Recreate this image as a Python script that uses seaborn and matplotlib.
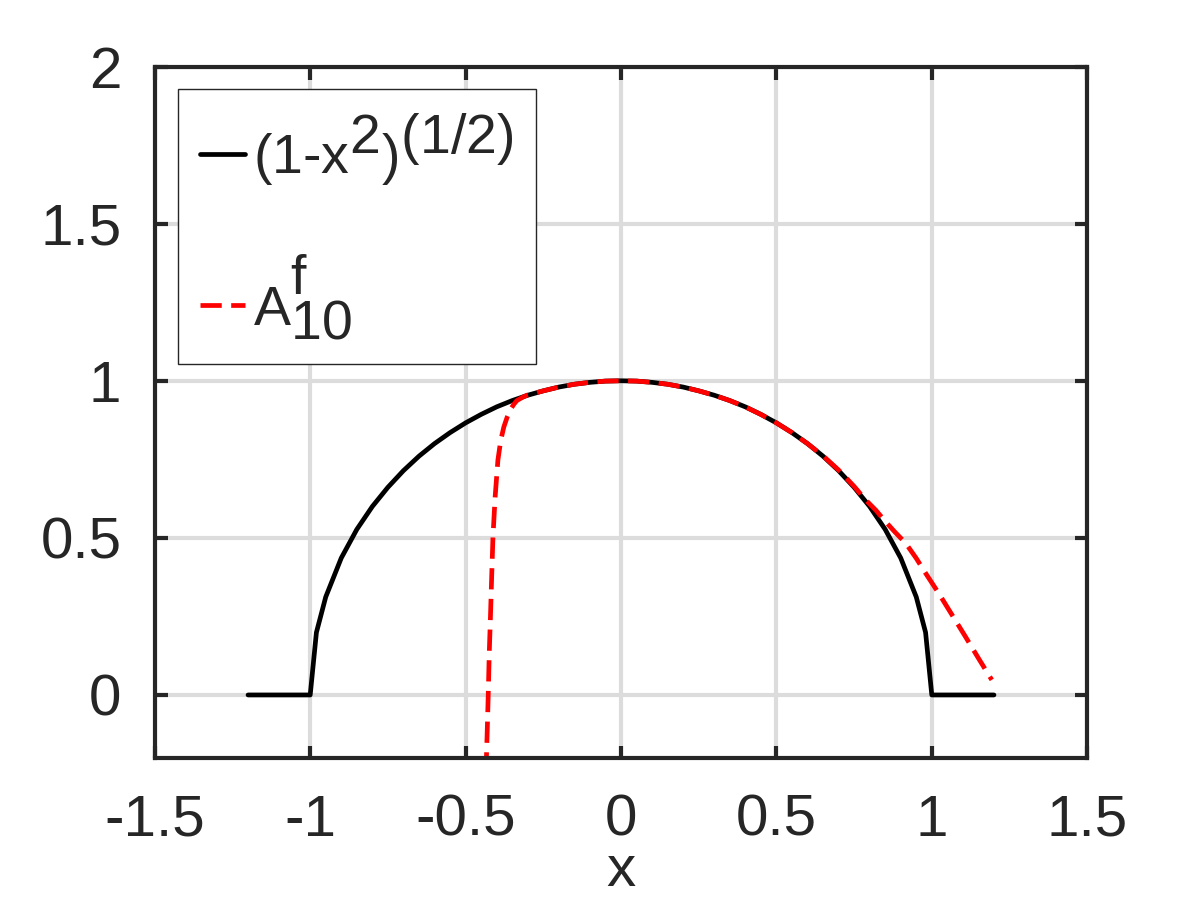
import numpy as np
import pandas as pd
import matplotlib
matplotlib.use("Agg")
import matplotlib.pyplot as plt
import matplotlib._mathtext as _mt
import seaborn as sns

# Black curve: (1-x^2)^(1/2)
x_exact = [-1.2, -1.0, -0.98, -0.95, -0.9, -0.85, -0.8, -0.75, -0.7, -0.65, -0.6,
           -0.55, -0.5, -0.45, -0.4, -0.35, -0.3, -0.25, -0.2, -0.15, -0.1, -0.05,
           0.0, 0.05, 0.1, 0.15, 0.2, 0.25, 0.3, 0.35, 0.4, 0.45, 0.5, 0.55, 0.6,
           0.65, 0.7, 0.75, 0.8, 0.85, 0.9, 0.95, 0.98, 1.0, 1.2]
y_exact = [0.0, 0.0, 0.199, 0.312, 0.436, 0.527, 0.600, 0.661, 0.714, 0.760, 0.800,
           0.835, 0.866, 0.893, 0.917, 0.937, 0.954, 0.968, 0.980, 0.989, 0.995, 0.999,
           1.0, 0.999, 0.995, 0.989, 0.980, 0.968, 0.954, 0.937, 0.917, 0.893, 0.866,
           0.835, 0.800, 0.760, 0.714, 0.661, 0.600, 0.527, 0.436, 0.312, 0.199, 0.0, 0.0]

# Red dashed curve: A^f_10
x_approx = [-0.435, -0.433, -0.430, -0.427, -0.424, -0.420, -0.416, -0.412, -0.405,
            -0.396, -0.387, -0.377, -0.366, -0.356, -0.345, -0.335, -0.314, -0.3,
            -0.25, -0.2, -0.15, -0.1, -0.05, 0.0, 0.05, 0.1, 0.15, 0.2, 0.25, 0.3,
            0.35, 0.4, 0.45, 0.5, 0.55, 0.6, 0.65, 0.7, 0.75, 0.787, 0.82, 0.85,
            0.88, 0.916, 0.95, 0.985, 1.022, 1.065, 1.108, 1.15, 1.193]
y_approx = [-0.25, -0.2, -0.1, 0.006, 0.13, 0.25, 0.38, 0.503, 0.63,
            0.748, 0.81, 0.853, 0.885, 0.908, 0.925, 0.937, 0.949, 0.955,
            0.968, 0.980, 0.989, 0.995, 0.999, 1.0, 0.999, 0.995, 0.989, 0.980, 0.968, 0.954,
            0.937, 0.917, 0.893, 0.866, 0.835, 0.800, 0.761, 0.716, 0.664, 0.621, 0.588, 0.553,
            0.520, 0.483, 0.435, 0.380, 0.324, 0.255, 0.186, 0.117, 0.048]

x_ticks = [-1.5, -1, -0.5, 0, 0.5, 1, 1.5]
x_ticklabels = ["-1.5", "-1", "-0.5", "0", "0.5", "1", "1.5"]
y_ticks = [0, 0.5, 1, 1.5, 2]
y_ticklabels = ["0", "0.5", "1", "1.5", "2"]

sns.set_theme(style="whitegrid")
plt.rcParams['font.family'] = ['Liberation Sans', 'DejaVu Sans']
plt.rcParams['mathtext.fontset'] = 'custom'
plt.rcParams['mathtext.rm'] = 'Liberation Sans'
plt.rcParams['mathtext.it'] = 'Liberation Sans'
plt.rcParams['mathtext.bf'] = 'Liberation Sans'
# full-size super/subscripts, as in the reference legend
_mt.SHRINK_FACTOR = 1.0

fig = plt.figure(figsize=(12, 9), dpi=100)
ax = fig.add_axes([0.129, 0.158, 0.777, 0.768])

df1 = pd.DataFrame({"x": x_exact, "y": y_exact})
df2 = pd.DataFrame({"x": x_approx, "y": y_approx})

sns.lineplot(data=df1, x="x", y="y", ax=ax, color="black", linewidth=3.4,
             sort=False, estimator=None, label=r"$\mathrm{(1\text{-}x^2)^{(1/2)}}$")
sns.lineplot(data=df2, x="x", y="y", ax=ax, color="red", linewidth=3.4,
             sort=False, estimator=None, label=r"$\mathrm{A^{f}_{10}}$")
ax.lines[1].set_dashes([4.5, 2])

ax.set_xlim(-1.5, 1.5)
ax.set_ylim(-0.2, 2)
ax.set_xticks(x_ticks)
ax.set_xticklabels(x_ticklabels)
ax.set_yticks(y_ticks)
ax.set_yticklabels(y_ticklabels)
ax.set_xlabel("x", fontsize=42, color="#262626", labelpad=-3)
ax.set_ylabel("")

ax.grid(True, color="#dcdcdc", linewidth=3)
ax.set_axisbelow(True)
for s in ax.spines.values():
    s.set_visible(True)
    s.set_color("#262626")
    s.set_linewidth(3)
ax.tick_params(axis="both", which="both", direction="in", length=9, width=3,
               color="#262626", labelsize=42, labelcolor="#262626",
               top=True, right=True, bottom=True, left=True)
ax.tick_params(axis="x", pad=26)
ax.tick_params(axis="y", pad=24)

leg = ax.legend(loc="upper left", bbox_to_anchor=(0.025, 0.967), fontsize=40,
                frameon=True, fancybox=False, handlelength=0.8, handletextpad=0.15,
                borderpad=0.4, labelspacing=1.15, borderaxespad=0)
leg.get_frame().set_edgecolor("#262626")
leg.get_frame().set_linewidth(1)
leg.get_frame().set_facecolor("white")
leg.get_frame().set_alpha(1)

fig.savefig("out.png", dpi=100)
